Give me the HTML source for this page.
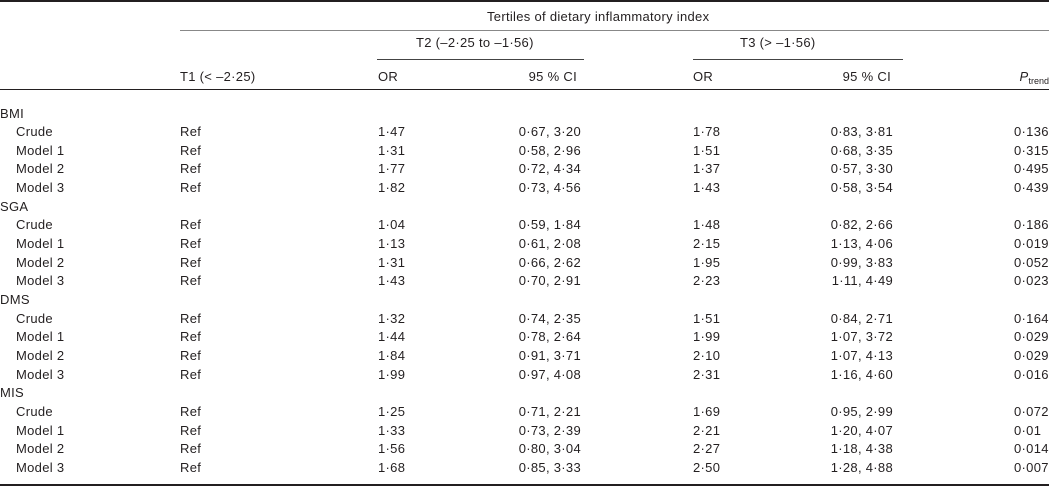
<!DOCTYPE html>
<html><head><meta charset="utf-8"><style>
body{margin:0;width:1049px;height:486px;background:#fff;position:relative;overflow:hidden;font-family:"Liberation Sans",Arial,sans-serif;font-size:13px;color:#231f20;letter-spacing:0.3px}
.t{position:absolute;white-space:nowrap;line-height:16px}
.r{text-align:right}
.l{position:absolute;background:#231f20}
sub{font-size:9px;vertical-align:-3px;letter-spacing:0}
</style></head><body>
<div class="l" style="left:0;top:0;width:1049px;height:2px"></div>
<div class="t" style="left:487px;top:9px">Tertiles of dietary inflammatory index</div>
<div class="l" style="left:180px;top:30px;width:869px;height:1px;background:#888"></div>
<div class="t" style="left:416px;top:35px">T2 (–2·25 to –1·56)</div>
<div class="t" style="left:740px;top:35px">T3 (&gt; –1·56)</div>
<div class="l" style="left:377px;top:59px;width:207px;height:1px;background:#444"></div>
<div class="l" style="left:693px;top:59px;width:210px;height:1px;background:#444"></div>
<div class="t" style="left:180px;top:69px">T1 (&lt; –2·25)</div>
<div class="t" style="left:378px;top:69px">OR</div>
<div class="t r" style="right:472px;top:69px">95 % CI</div>
<div class="t" style="left:693px;top:69px">OR</div>
<div class="t r" style="right:158px;top:69px">95 % CI</div>
<div class="t r" style="right:0px;top:69px"><i>P</i><sub>trend</sub></div>
<div class="l" style="left:0;top:89px;width:1049px;height:1px"></div>
<div id="rows"></div>
<div class="l" style="left:0;top:484px;width:1049px;height:2px"></div>
<script>
var d=[["BMI"],["Crude","1·47","0·67, 3·20","1·78","0·83, 3·81","0·136"],["Model 1","1·31","0·58, 2·96","1·51","0·68, 3·35","0·315"],["Model 2","1·77","0·72, 4·34","1·37","0·57, 3·30","0·495"],["Model 3","1·82","0·73, 4·56","1·43","0·58, 3·54","0·439"],
["SGA"],["Crude","1·04","0·59, 1·84","1·48","0·82, 2·66","0·186"],["Model 1","1·13","0·61, 2·08","2·15","1·13, 4·06","0·019"],["Model 2","1·31","0·66, 2·62","1·95","0·99, 3·83","0·052"],["Model 3","1·43","0·70, 2·91","2·23","1·11, 4·49","0·023"],
["DMS"],["Crude","1·32","0·74, 2·35","1·51","0·84, 2·71","0·164"],["Model 1","1·44","0·78, 2·64","1·99","1·07, 3·72","0·029"],["Model 2","1·84","0·91, 3·71","2·10","1·07, 4·13","0·029"],["Model 3","1·99","0·97, 4·08","2·31","1·16, 4·60","0·016"],
["MIS"],["Crude","1·25","0·71, 2·21","1·69","0·95, 2·99","0·072"],["Model 1","1·33","0·73, 2·39","2·21","1·20, 4·07","0·01"],["Model 2","1·56","0·80, 3·04","2·27","1·18, 4·38","0·014"],["Model 3","1·68","0·85, 3·33","2·50","1·28, 4·88","0·007"]];
var h="";
d.forEach(function(r,i){var y=(105.5+i*18.65).toFixed(1);
if(r.length==1){h+='<div class="t" style="left:0;top:'+y+'px">'+r[0]+'</div>';return;}
h+='<div class="t" style="left:16px;top:'+y+'px">'+r[0]+'</div>';
h+='<div class="t" style="left:180px;top:'+y+'px">Ref</div>';
h+='<div class="t" style="left:378px;top:'+y+'px">'+r[1]+'</div>';
h+='<div class="t r" style="right:468px;top:'+y+'px">'+r[2]+'</div>';
h+='<div class="t" style="left:693px;top:'+y+'px">'+r[3]+'</div>';
h+='<div class="t r" style="right:156px;top:'+y+'px">'+r[4]+'</div>';
h+='<div class="t" style="left:1014px;top:'+y+'px">'+r[5]+'</div>';});
document.getElementById("rows").innerHTML=h;
</script>
</body></html>
